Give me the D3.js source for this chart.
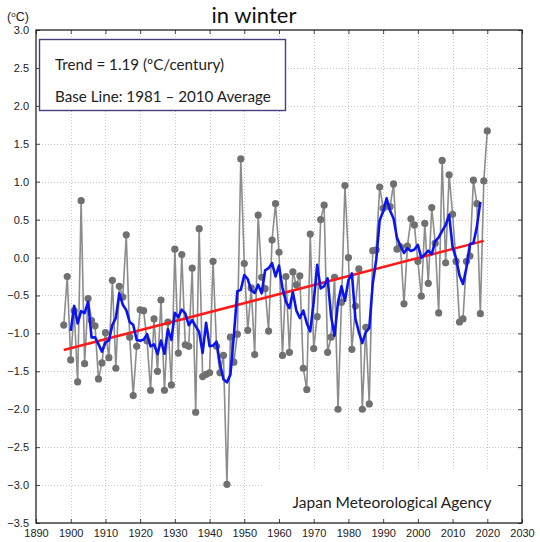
<!DOCTYPE html>
<html>
<head>
<meta charset="utf-8">
<script src="https://cdn.jsdelivr.net/npm/d3@7"></script>
<style>
  html, body { margin: 0; padding: 0; background: #fff; }
  svg { display: block; }
</style>
</head>
<body>
<svg id="chart" width="540" height="542"></svg>
<script>
// Winter mean temperature anomaly in Japan (deg C, vs 1981-2010 average)
const years = d3.range(1898, 2021);
const anomalies = [
  -0.89, -0.25, -1.35, -0.70, -1.64, 0.75, -1.40, -0.54, -0.83, -0.90,   // 1898-1907
  -1.60, -1.39, -0.99, -1.32, -0.30, -1.46, -0.38, -0.52, 0.30, -1.05,   // 1908-1917
  -1.82, -1.17, -0.69, -0.70, -1.10, -1.75, -0.81, -1.50, -0.56, -1.75,  // 1918-1927
  -0.85, -1.68, 0.11, -1.26, 0.04, -1.15, -1.17, -0.14, -2.04, 0.38,     // 1928-1937
  -1.57, -1.54, -1.52, -0.05, -1.17, -1.52, -1.29, -2.99, -1.05, -1.38,  // 1938-1947
  -1.01, 1.30, -0.08, -0.96, -0.40, -1.28, 0.56, -0.26, -0.41, -0.97,    // 1948-1957
  0.23, 0.71, 0.07, -1.29, -0.25, -1.25, -0.19, -0.36, -0.24, -1.46,     // 1958-1967
  -1.74, 0.31, -1.20, -0.78, 0.50, 0.69, -1.25, -1.05, -0.26, -2.00,     // 1968-1977
  -0.59, 0.95, 0.00, -1.21, -0.64, -0.15, -2.00, -0.92, -1.93, 0.09,     // 1978-1987
  0.10, 0.93, 0.65, 0.68, 0.67, 0.97, 0.11, 0.14, -0.61, 0.15,           // 1988-1997
  0.51, 0.43, -0.05, -0.51, 0.45, -0.34, 0.66, 0.19, -0.73, 1.28,        // 1998-2007
  -0.07, 1.09, 0.57, -0.05, -0.85, -0.81, -0.05, 0.02, 1.02, 0.71,       // 2008-2017
  -0.74, 1.01, 1.67                                                      // 2018-2020
];

// Long-term trend: 1.19 deg C per century
const trendRate = 1.19;            // deg C / century
const trendYears = [1898, 2019];
const trendStartValue = -1.22;

const runningWindow = 5;           // 5-year running mean

const xTicks = d3.range(1890, 2031, 10);
const yTicks = d3.range(-3.5, 3.01, 0.5);

const titleText = "in winter";
const unitText = ["(", "o", "C)"];
const legendLines = ["Trend = 1.19 (\u00baC/century)", "Base Line: 1981 \u2013 2010 Average"];
const creditText = "Japan Meteorological Agency";

const svg = d3.select("#chart");
const x = d3.scaleLinear().domain([1890, 2030]).range([36, 522]);
const y = d3.scaleLinear().domain([-3.5, 3]).range([523, 30]);
const [x0, x1] = x.range();
const [y0, y1] = y.range();

// grid
const grid = svg.append("g").attr("stroke", "#c8c8c8").attr("stroke-width", 1)
  .attr("stroke-dasharray", "1,2");
grid.selectAll("line.v").data(xTicks.slice(1, -1)).join("line")
  .attr("x1", d => Math.round(x(d)) + 0.5).attr("x2", d => Math.round(x(d)) + 0.5)
  .attr("y1", y1).attr("y2", y0);
grid.selectAll("line.h").data(yTicks.slice(1, -1)).join("line")
  .attr("x1", x0).attr("x2", x1)
  .attr("y1", d => Math.round(y(d)) + 0.5).attr("y2", d => Math.round(y(d)) + 0.5);

// data series
const series = years.map((yr, i) => ({ year: yr, value: anomalies[i] }));
const half = Math.floor(runningWindow / 2);
const running = series.slice(half, series.length - half).map((d, i) => ({
  year: d.year,
  value: d3.mean(series.slice(i, i + runningWindow), s => s.value)
}));
const trend = trendYears.map(yr => ({
  year: yr,
  value: trendStartValue + trendRate / 100 * (yr - trendYears[0])
}));

const line = d3.line().x(d => x(d.year)).y(d => y(d.value));

svg.append("path").datum(series).attr("d", line)
  .attr("fill", "none").attr("stroke", "#8c8c8c").attr("stroke-width", 1.6);
svg.append("g").selectAll("circle").data(series).join("circle")
  .attr("cx", d => x(d.year)).attr("cy", d => y(d.value)).attr("r", 3.6)
  .attr("fill", "#707070");
svg.append("path").datum(trend).attr("d", line)
  .attr("fill", "none").attr("stroke", "#ff1a1a").attr("stroke-width", 2.5);
svg.append("path").datum(running).attr("d", line)
  .attr("fill", "none").attr("stroke", "#0a14f0").attr("stroke-width", 2.6)
  .attr("stroke-linejoin", "round");

// credit panel
svg.append("rect").attr("x", 262).attr("y", 470).attr("width", x1 - 262 - 1).attr("height", y0 - 470 - 1)
  .attr("fill", "#fff");
svg.append("text").attr("x", 392).attr("y", 508).attr("text-anchor", "middle")
  .attr("font-family", "Lato, 'Open Sans', sans-serif").attr("font-size", 15.5)
  .attr("fill", "#222").text(creditText);

// legend box
svg.append("rect").attr("x", 39.5).attr("y", 39.5).attr("width", 246).attr("height", 71)
  .attr("fill", "#fff").attr("stroke", "#4a3b7a").attr("stroke-width", 1.4);
svg.append("g").selectAll("text").data(legendLines).join("text")
  .attr("x", 55).attr("y", (d, i) => 70 + i * 32)
  .attr("font-family", "Lato, 'Open Sans', sans-serif").attr("font-size", 15.2)
  .attr("fill", "#222").text(d => d);

// frame and axes
const axisFont = "'Liberation Sans', Arial, sans-serif";
const axisBottomG = svg.append("g").attr("transform", `translate(0,${y0})`)
  .call(d3.axisBottom(x).tickValues(xTicks).tickFormat(d3.format("d"))
    .tickSizeInner(-4).tickSizeOuter(0).tickPadding(6));
const axisTopG = svg.append("g").attr("transform", `translate(0,${y1})`)
  .call(d3.axisTop(x).tickValues(xTicks).tickFormat("").tickSizeInner(-4).tickSizeOuter(0));
const axisLeftG = svg.append("g").attr("transform", `translate(${x0},0)`)
  .call(d3.axisLeft(y).tickValues(yTicks).tickFormat(d3.format(".1f"))
    .tickSizeInner(-4).tickSizeOuter(0).tickPadding(7));
const axisRightG = svg.append("g").attr("transform", `translate(${x1},0)`)
  .call(d3.axisRight(y).tickValues(yTicks).tickFormat("").tickSizeInner(-4).tickSizeOuter(0));
[axisBottomG, axisTopG, axisLeftG, axisRightG].forEach(g => {
  g.select(".domain").remove();
  g.selectAll(".tick line").attr("stroke", "#444");
  g.selectAll("text").attr("font-family", axisFont).attr("font-size", 11).attr("fill", "#222");
});
svg.append("rect").attr("x", x0).attr("y", y1).attr("width", x1 - x0).attr("height", y0 - y1)
  .attr("fill", "none").attr("stroke", "#222").attr("stroke-width", 1.3);

// title and unit
svg.append("text").attr("x", 254).attr("y", 23).attr("text-anchor", "middle")
  .attr("font-family", "Lato, 'Open Sans', sans-serif").attr("font-size", 22)
  .attr("fill", "#111").text(titleText);
const unit = svg.append("text").attr("x", 7).attr("y", 21)
  .attr("font-family", axisFont).attr("font-size", 12.5).attr("fill", "#222");
unit.append("tspan").text(unitText[0]);
unit.append("tspan").attr("font-size", 8).attr("dy", -4).text(unitText[1]);
unit.append("tspan").attr("dy", 4).text(unitText[2]);
</script>
</body>
</html>
